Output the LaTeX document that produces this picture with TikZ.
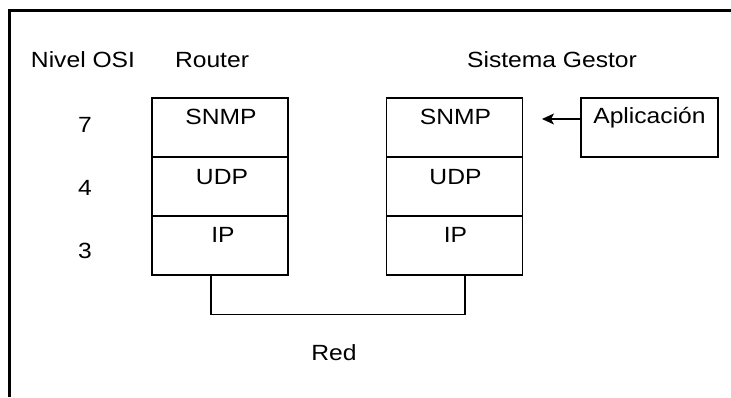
\documentclass[tikz,border=0pt]{standalone}
\usepackage{fontspec}
\setmainfont{Liberation Sans}[FakeStretch=1.12]
\usetikzlibrary{arrows.meta}
\begin{document}
\begin{tikzpicture}[x=1pt,y=-1pt,
  cell/.style={draw, line width=1.1pt, minimum width=136pt, minimum height=59pt, inner sep=0pt},
  lbl/.style={font=\fontsize{22}{24}\selectfont, inner sep=0pt, anchor=base},
  wire/.style={line width=1.1pt}]
\useasboundingbox (0,0) rectangle (731,397);
\fill[white] (0,0) rectangle (731,397);
% frame
\draw[line width=3pt] (9,397) -- (9,10) -- (731,10);
% headings
\node[lbl] (hosi) at (83,67) {Nivel OSI};
\node[lbl] (hrouter) at (212,67) {Router};
\node[lbl] (hgestor) at (552,67) {Sistema Gestor};
% layer numbers
\node[lbl] (n7) at (85,132) {7};
\node[lbl] (n4) at (85,195) {4};
\node[lbl] (n3) at (85,258) {3};
% router stack
\node[cell] (r7) at (220,127.5) {};
\node[cell] (r4) at (220,186.5) {};
\node[cell] (r3) at (220,245.5) {};
\node[lbl] (tr7) at ([xshift=1pt,yshift=-27pt]r7.north) {SNMP};
\node[lbl] (tr4) at ([xshift=2pt,yshift=-28pt]r4.north) {UDP};
\node[lbl] (tr3) at ([xshift=3pt,yshift=-27pt]r3.north) {IP};
% gestor stack
\node[cell] (s7) at (454.5,127.5) {};
\node[cell] (s4) at (454.5,186.5) {};
\node[cell] (s3) at (454.5,245.5) {};
\node[lbl] (ts7) at ([xshift=1pt,yshift=-27pt]s7.north) {SNMP};
\node[lbl] (ts4) at ([xshift=1pt,yshift=-28pt]s4.north) {UDP};
\node[lbl] (ts3) at ([xshift=1pt,yshift=-27pt]s3.north) {IP};
% application
\node[cell, minimum width=137pt] (app) at (649.5,127.5) {};
\node[lbl] (tapp) at ([yshift=-26pt]app.north) {Aplicación};
\coordinate (arrend) at (542,119);
\draw[wire, -{Stealth[length=12pt,width=11pt,inset=3pt]}] (app.west |- arrend) -- (arrend);
% network
\draw[wire] ([xshift=-9pt]r3.south) -- ++(0,39) -| ([xshift=10.5pt]s3.south);
\node[lbl] (red) at (334,360) {Red};
\end{tikzpicture}
\end{document}
